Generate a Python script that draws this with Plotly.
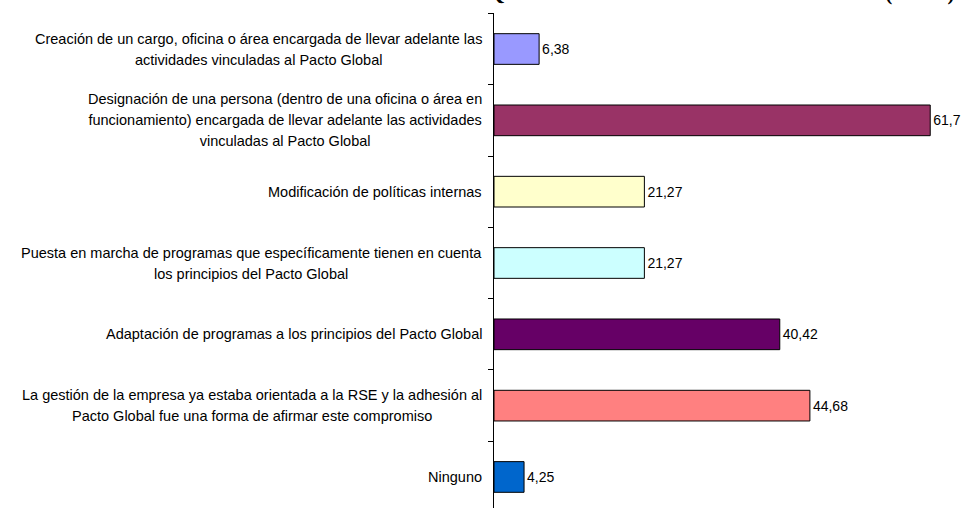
import plotly.graph_objects as go

categories = [
    "Creación de un cargo, oficina o área encargada de llevar adelante las<br>actividades vinculadas al Pacto Global",
    "Designación de una persona (dentro de una oficina o área en<br>funcionamiento) encargada de llevar adelante las actividades<br>vinculadas al Pacto Global",
    "Modificación de políticas internas",
    "Puesta en marcha de programas que específicamente tienen en cuenta<br>los principios del Pacto Global",
    "Adaptación de programas a los principios del Pacto Global",
    "La gestión de la empresa ya estaba orientada a la RSE y la adhesión al<br>Pacto Global fue una forma de afirmar este compromiso",
    "Ninguno",
]
values = [6.38, 61.7, 21.27, 21.27, 40.42, 44.68, 4.25]
value_labels = ["6,38", "61,7", "21,27", "21,27", "40,42", "44,68", "4,25"]
colors = ["#9999FF", "#993366", "#FFFFCC", "#CCFFFF", "#660066", "#FF8080", "#0066CC"]
title_text = "ACCIONES ADOPTADAS POR LAS EMPRESAS QUE ADHIRIERON AL PACTO GLOBAL (EN %)"

# bottom-to-top order for the category axis
cat_order = categories[::-1]

FONT = "Liberation Sans, Arial, sans-serif"

fig = go.Figure()
fig.add_trace(go.Bar(
    y=categories,
    x=values,
    orientation="h",
    marker=dict(color=colors, line=dict(color="black", width=1)),
    width=0.43,
    text=value_labels,
    textposition="outside",
    textfont=dict(family=FONT, size=14, color="black"),
    cliponaxis=False,
    hoverinfo="skip",
))

annotations = []
for c in categories:
    annotations.append(dict(
        x=0, xref="paper", y=c, yref="y",
        xanchor="right", yanchor="middle", align="center",
        xshift=-10,
        text="<span style='font-size:14.5px'>" + c.replace("<br>", "</span><br><span style='font-size:14.5px'>") + "</span>",
        showarrow=False,
        font=dict(family=FONT, size=16, color="black"),
    ))

annotations.append(dict(
    x=-0.0085, xref="paper", y=1, yref="paper", yshift=6,
    xanchor="center", yanchor="bottom",
    text="<b>" + title_text + "</b>",
    showarrow=False,
    font=dict(family="Liberation Serif, Times New Roman, serif", size=21, color="black"),
))

fig.update_layout(
    width=967, height=508,
    margin=dict(l=494, r=0, t=13, b=0),
    paper_bgcolor="white", plot_bgcolor="white",
    showlegend=False,
    annotations=annotations,
    xaxis=dict(range=[0, 66.9], visible=False, showgrid=False, zeroline=False),
    yaxis=dict(
        type="category", categoryorder="array", categoryarray=cat_order,
        range=[-0.435, 6.505],
        showticklabels=False, showgrid=False, zeroline=False,
        showline=True, linecolor="black", linewidth=1,
        ticks="outside", ticklen=5, tickcolor="black", tickwidth=1,
        tickson="boundaries",
    ),
)

fig.write_html("out.html", config={"displayModeBar": False},
               post_script="document.body.style.margin='0';")
